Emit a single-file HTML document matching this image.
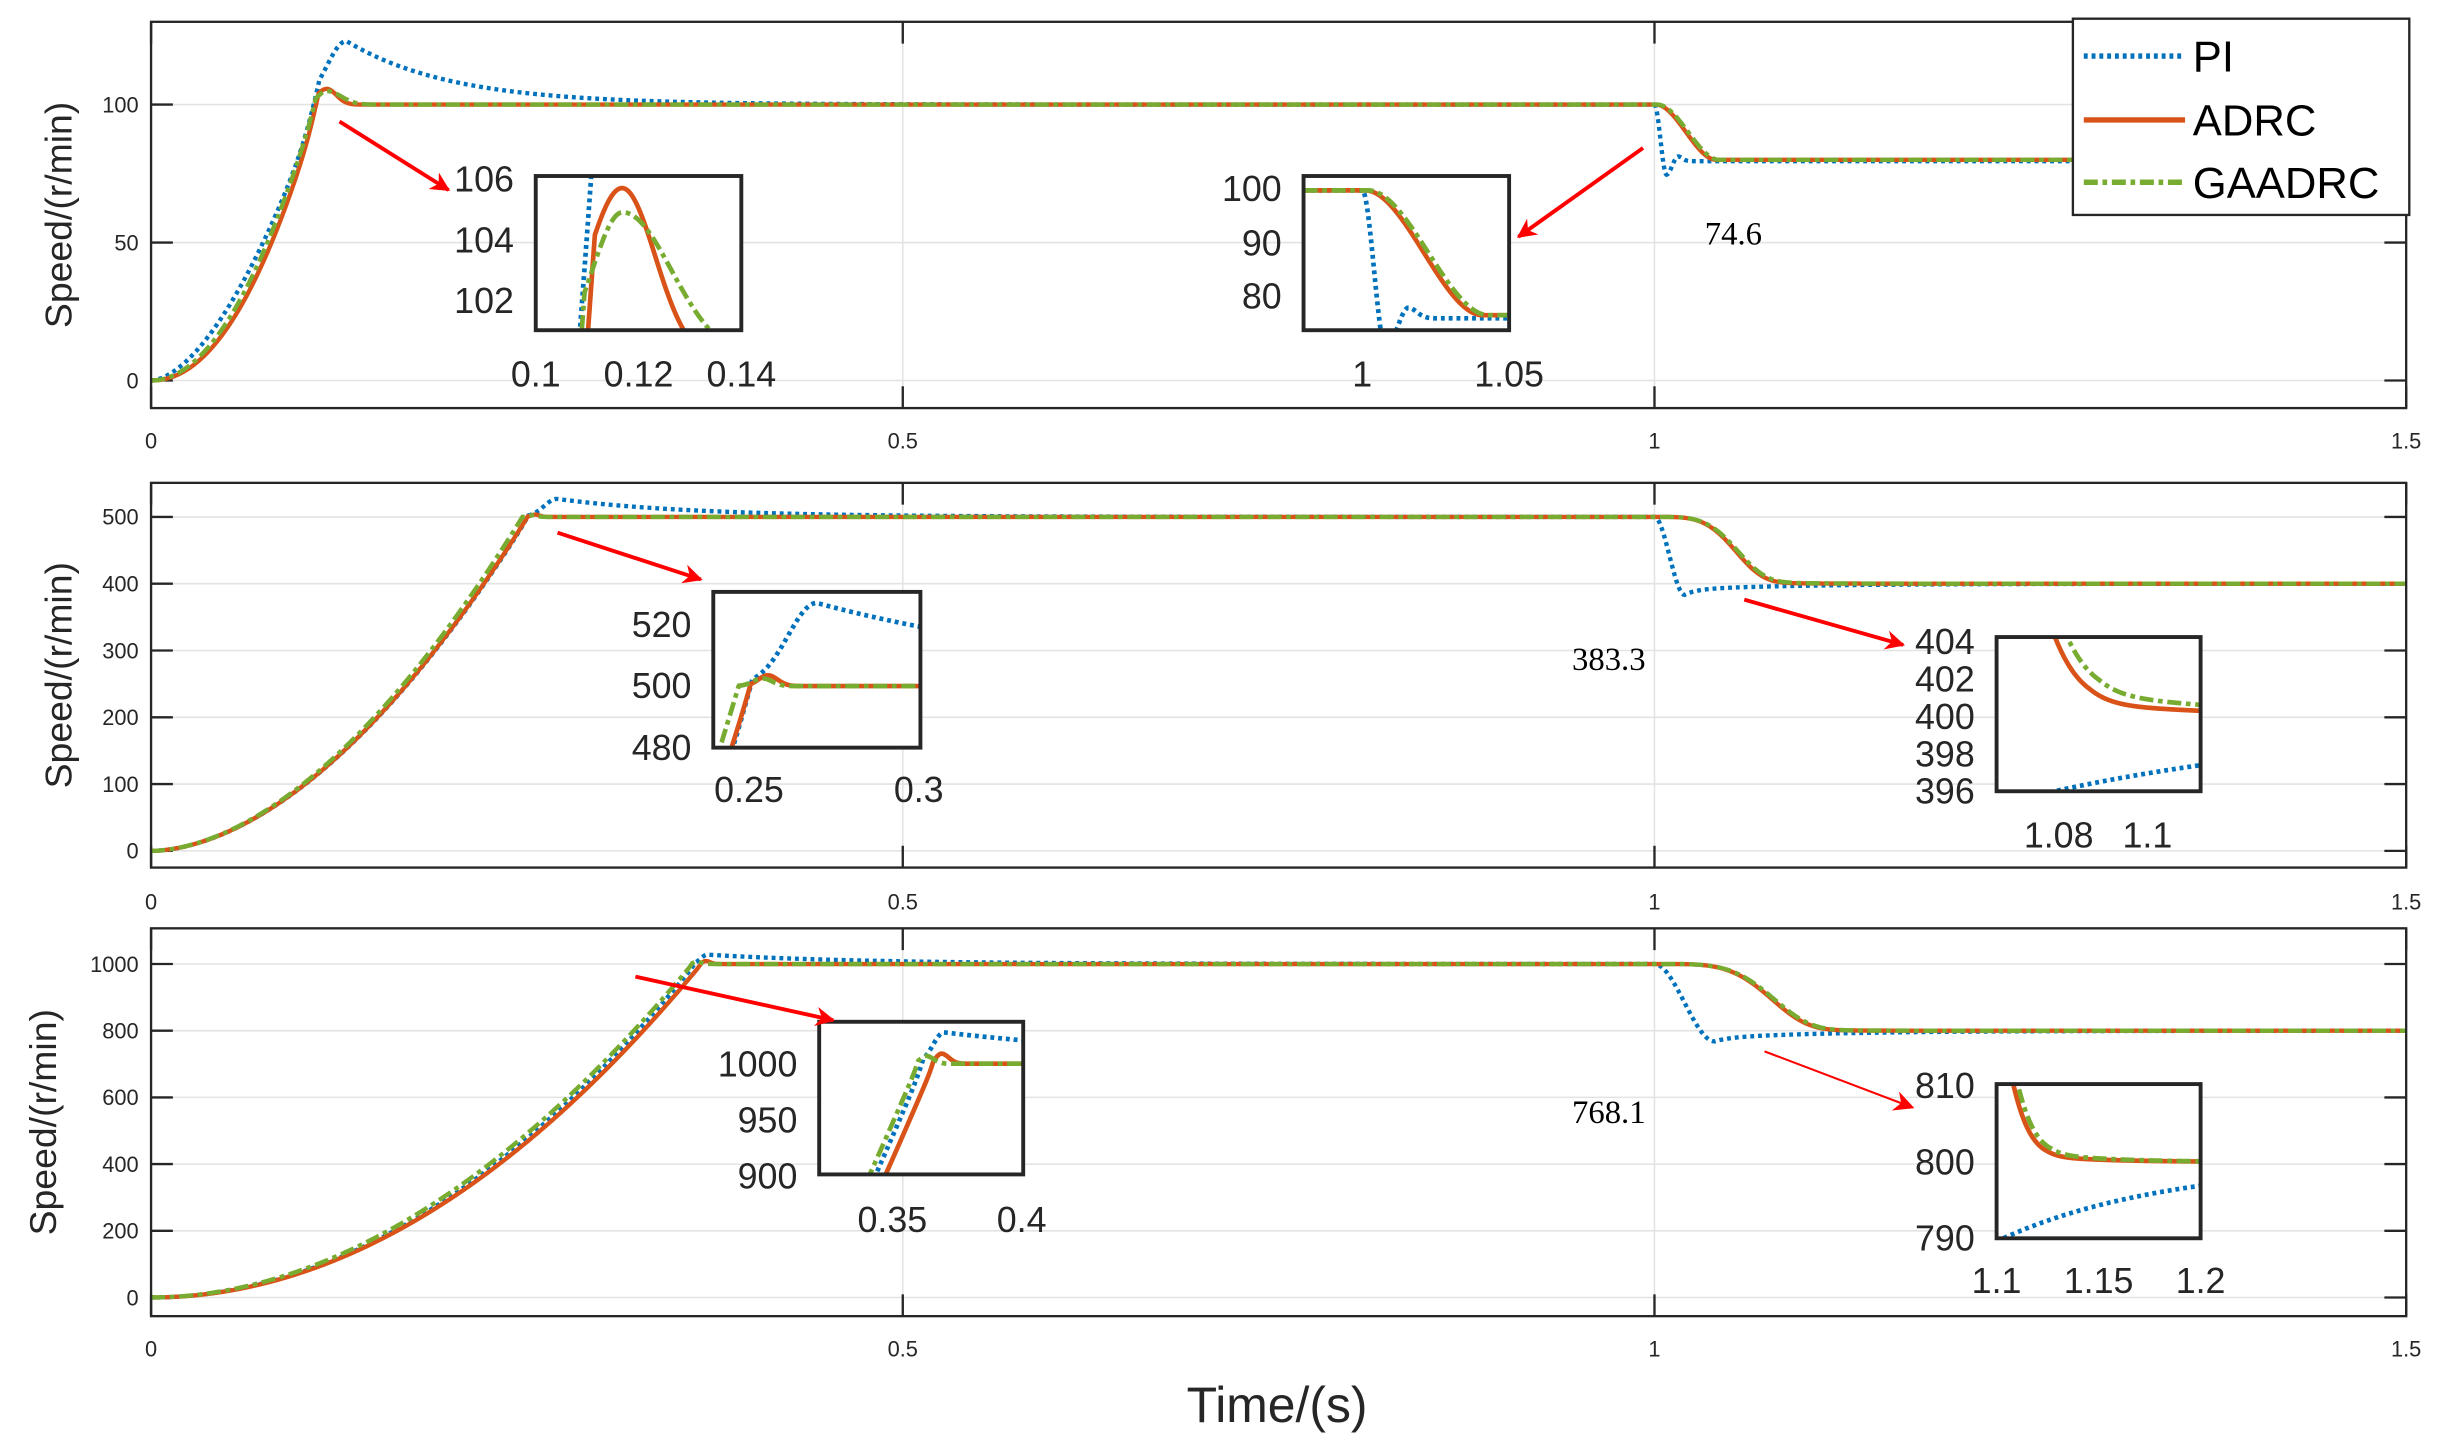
<!DOCTYPE html>
<html><head><meta charset="utf-8"><style>
html,body{margin:0;padding:0;background:#fff;}
svg{display:block;}
text{font-family:"Liberation Sans",sans-serif;fill:#262626;}
</style></head><body>
<svg id="s" width="2442" height="1447" viewBox="0 0 1568 929" preserveAspectRatio="none" xmlns="http://www.w3.org/2000/svg">
<defs>
<marker id="ah" viewBox="0 0 10 10" refX="9" refY="5" markerWidth="7" markerHeight="5" orient="auto" markerUnits="strokeWidth"><path d="M0,0 L10,5 L0,10 L3,5 z" fill="#ff0000"/></marker>
<marker id="ah2" viewBox="0 0 10 10" refX="9" refY="5" markerWidth="14" markerHeight="10" orient="auto" markerUnits="strokeWidth"><path d="M0,0 L10,5 L0,10 L3,5 z" fill="#ff0000"/></marker>
</defs>
<g id="g"></g>
</svg>
<script>
var NS="http://www.w3.org/2000/svg",G=document.getElementById('g');
function el(t,a,txt){var e=document.createElementNS(NS,t);for(var k in a)e.setAttribute(k,a[k]);if(txt!==undefined)e.textContent=txt;G.appendChild(e);return e;}
function S(u){return u<=0?0:u>=1?1:u*u*(3-2*u);}
function E(x){return Math.exp(x);}
function M(t,L,T,n,A,tp,wL,pL,wR,pR,tauR){var r=Math.min(1,Math.pow(Math.max(t,0)/T,n));var x=t-tp,b;
 if(x<0)b=A*E(-Math.pow(-x/wL,pL));else b=tauR?A*E(-x/tauR):A*E(-Math.pow(x/wR,pR));return L*r+b;}
var F=[
 {pi:function(t){if(t<1)return M(t,100,0.112,1.7,23,0.13,0.0186,2,0,0,0.07);
   if(t<1.008)return 100-25.4*S((t-1)/0.008);if(t<1.0157)return 74.6+6.6*S((t-1.008)/0.0077);return 79.5+1.7*E(-Math.pow((t-1.0157)/0.004,2));},
  ad:function(t){if(t<1)return M(t,100,0.1115,2.1,5.7,0.1168,0.0094,2,0.0091,2,0);return 100-20*S((t-1.001)/0.04);},
  ga:function(t){if(t<1)return M(t,100,0.1095,2.0,4.9,0.1169,0.0084,2,0.0135,2,0);return 100-20*S((t-1.002)/0.041);}},
 {pi:function(t){if(t<1)return M(t,500,0.251,1.8,27,0.27,0.012,2,0,0,0.09);
   if(t<1.02)return 500-116.7*S((t-1)/0.02);return 400-8.6*E(-(t-1.02)/0.077)-8.1*E(-(t-1.02)/0.008);},
  ad:function(t){if(t<1)return M(t,500,0.2505,1.8,3.5,0.2556,0.004,2,0.004,2,0);var x=t-1;
   return 400+99.3*E(-Math.pow(x/0.0586,4))+0.7*(t<1.087?1:E(-(t-1.087)/0.03));},
  ga:function(t){if(t<1)return M(t,500,0.247,1.8,2.5,0.254,0.004,2,0.004,2,0);var x=t-1;
   return 400+98.8*E(-Math.pow(x/0.06,4))+1.2*(t<1.089?1:E(-(t-1.089)/0.035));}},
 {pi:function(t){if(t<1)return M(t,1000,0.362,2,28,0.37,0.006,2,0,0,0.104);
   if(t<1.04)return 1000-232*S((t-1)/0.04);return 800-21.4*E(-(t-1.04)/0.083)-10.6*E(-(t-1.04)/0.01);},
  ad:function(t){if(t<1)return M(t,1000,0.366,2,9,0.369,0.003,2,0.004,2,0);var x=t-1;
   return 800+199.3*E(-Math.pow(x/0.0835,4.3))+0.7*(t<1.125?1:E(-(t-1.125)/0.03));},
  ga:function(t){if(t<1)return M(t,1000,0.36,1.95,7,0.363,0.003,2,0.004,2,0);var x=t-1;
   return 800+199*E(-Math.pow(x/0.085,4.3))+1.0*(t<1.127?1:E(-(t-1.127)/0.03));}}
];
var ST={pi:{stroke:"#0072BD","stroke-dasharray":"2.5,2.5"},ad:{stroke:"#D95319"},ga:{stroke:"#77AC30","stroke-dasharray":"9,3,3,3"}};
var cid=0;
function plot(f,x0,x1,y0,y1,X0,X1,Y0,Y1,w,N){
 cid++;var c=document.createElementNS(NS,'clipPath');c.setAttribute('id','c'+cid);var r=document.createElementNS(NS,'rect');
 r.setAttribute('x',X0);r.setAttribute('y',Y1);r.setAttribute('width',X1-X0);r.setAttribute('height',Y0-Y1);c.appendChild(r);G.appendChild(c);
 ['pi','ad','ga'].forEach(function(k){var d='';for(var i=0;i<=N;i++){var t=x0+(x1-x0)*i/N;var v=f[k](t);var px=X0+(t-x0)/(x1-x0)*(X1-X0);var py=Y0+(v-y0)/(y1-y0)*(Y1-Y0);d+=(i?'L':'M')+px.toFixed(2)+','+py.toFixed(2);}
  var a={d:d,fill:"none","stroke-width":w,"clip-path":"url(#c"+cid+")"};for(var q in ST[k])a[q]=ST[k][q];el('path',a);});
}
var P=[{t:14,b:262,ylim:[-10,130],ticks:[0,50,100],xl:282,lab:38},
       {t:310,b:557,ylim:[-25,551],ticks:[0,100,200,300,400,500],xl:578,lab:38},
       {t:596,b:845,ylim:[-56,1107],ticks:[0,200,400,600,800,1000],xl:865,lab:28}];
var L=97,R=1545;
P.forEach(function(p,i){
 var ym=function(v){return p.b+(v-p.ylim[0])/(p.ylim[1]-p.ylim[0])*(p.t-p.b);};
 p.ticks.forEach(function(v){var y=ym(v);el('line',{x1:L,x2:R,y1:y,y2:y,stroke:"#e3e3e3","stroke-width":1});
   el('line',{x1:L,x2:L+14,y1:y,y2:y,stroke:"#262626","stroke-width":1.5});el('line',{x1:R-14,x2:R,y1:y,y2:y,stroke:"#262626","stroke-width":1.5});
   el('text',{x:L-8,y:y+5,"font-size":14,"text-anchor":"end"},String(v));});
 [0,0.5,1,1.5].forEach(function(v){var x=L+v/1.5*(R-L);if(v>0&&v<1.5)el('line',{x1:x,x2:x,y1:p.t,y2:p.b,stroke:"#e3e3e3","stroke-width":1});
   el('line',{x1:x,x2:x,y1:p.b,y2:p.b-14,stroke:"#262626","stroke-width":1.5});el('line',{x1:x,x2:x,y1:p.t,y2:p.t+14,stroke:"#262626","stroke-width":1.5});
   el('text',{x:x,y:p.xl+6,"font-size":14,"text-anchor":"middle"},String(v));});
 plot(F[i],0,1.5,p.ylim[0],p.ylim[1],L,R,p.b,p.t,2.8,3000);
 el('rect',{x:L,y:p.t,width:R-L,height:p.b-p.t,fill:"none",stroke:"#262626","stroke-width":1.5});
 var cy=(p.t+p.b)/2;el('text',{x:p.lab+8,y:cy,"font-size":24,"text-anchor":"middle",transform:"rotate(-90 "+(p.lab+8)+" "+cy+")"},"Speed/(r/min)");
});
el('text',{x:820,y:913,"font-size":32,"text-anchor":"middle"},"Time/(s)");
var I=[
 {p:0,X0:344,X1:476,T:113,B:212,x:[0.1,0.14],y:[101.0,106.1],yt:[[106,115],[104,154],[102,193]],xt:[[0.1,"0.1"],[0.12,"0.12"],[0.14,"0.14"]],xly:240},
 {p:0,X0:837,X1:969,T:113,B:212,x:[0.98,1.05],y:[77.6,102.3],yt:[[100,121],[90,156],[80,190]],xt:[[1,"1"],[1.05,"1.05"]],xly:240},
 {p:1,X0:458,X1:591,T:380,B:480,x:[0.2395,0.3005],y:[480,530.6],yt:[[520,401],[500,440],[480,480]],xt:[[0.25,"0.25"],[0.3,"0.3"]],xly:507},
 {p:1,X0:1282,X1:1413,T:409,B:508,x:[1.066,1.112],y:[396,404.25],yt:[[404,412],[402,436],[400,460],[398,484],[396,508]],xt:[[1.08,"1.08"],[1.1,"1.1"]],xly:536},
 {p:2,X0:526,X1:657,T:656,B:754,x:[0.3217,0.4006],y:[901,1037.5],yt:[[1000,683],[950,719],[900,755]],xt:[[0.35,"0.35"],[0.4,"0.4"]],xly:783},
 {p:2,X0:1282,X1:1413,T:696,B:795,x:[1.1,1.2],y:[790,810.2],yt:[[810,697],[800,746],[790,795]],xt:[[1.1,"1.1"],[1.15,"1.15"],[1.2,"1.2"]],xly:822}
];
I.forEach(function(q){
 el('rect',{x:q.X0,y:q.T,width:q.X1-q.X0,height:q.B-q.T,fill:"#fff",stroke:"none"});
 plot(F[q.p],q.x[0],q.x[1],q.y[0],q.y[1],q.X0,q.X1,q.B,q.T,3,800);
 el('rect',{x:q.X0,y:q.T,width:q.X1-q.X0,height:q.B-q.T,fill:"none",stroke:"#262626","stroke-width":2.5});
 q.yt.forEach(function(a){el('text',{x:q.X0-14,y:a[1]+8,"font-size":23,"text-anchor":"end"},String(a[0]));});
 q.xt.forEach(function(a){var x=q.X0+(a[0]-q.x[0])/(q.x[1]-q.x[0])*(q.X1-q.X0);el('text',{x:x,y:q.xly+8,"font-size":23,"text-anchor":"middle"},a[1]);});
});
[[218,78,288,122,2.5,'ah'],[1055,95,975,152,2.5,'ah'],[358,342,450,372,2.5,'ah'],[1120,385,1222,414,2.5,'ah'],[408,627,535,655,2.5,'ah'],[1133,675,1228,711,1.3,'ah2']].forEach(function(a){
 el('line',{x1:a[0],y1:a[1],x2:a[2],y2:a[3],stroke:"#ff0000","stroke-width":a[4],"marker-end":"url(#"+a[5]+")"});});
[["74.6",1113,157],["383.3",1033,430],["768.1",1033,721]].forEach(function(a){var t=el('text',{x:a[1],y:a[2],"font-size":21,"text-anchor":"middle"},a[0]);t.style.fontFamily='"Liberation Serif",serif';t.style.fill='#000';});
el('rect',{x:1331,y:12,width:216,height:126,fill:"#fff",stroke:"#262626","stroke-width":1.5});
[["PI","pi",36],["ADRC","ad",77],["GAADRC","ga",117]].forEach(function(a){var s={x1:1338,x2:1403,y1:a[2],y2:a[2],"stroke-width":3.5};for(var q in ST[a[1]])s[q]=ST[a[1]][q];el('line',s);
 var t=el('text',{x:1408,y:a[2]+10,"font-size":28},a[0]);t.style.fill='#000';});
</script>
</body></html>
